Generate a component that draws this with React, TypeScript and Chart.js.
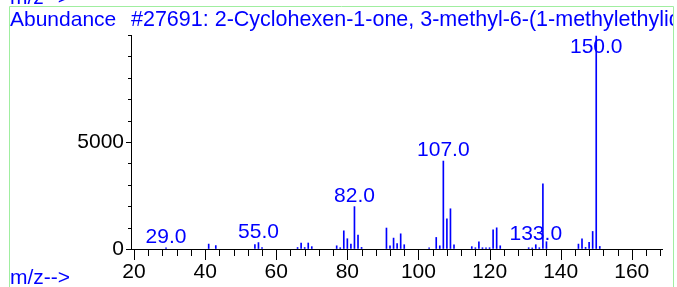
import React, { useEffect, useRef } from 'react';
import { Chart, registerables } from 'chart.js';

Chart.register(...registerables);

// m/z values of the peaks
const masses = [
  29, 41, 43, 54, 55, 56, 66, 67, 68, 69, 70, 77, 78, 79, 80, 81, 82, 83, 84,
  91, 92, 93, 94, 95, 96, 103, 105, 106, 107, 108, 109, 110, 115, 116, 117, 118,
  119, 120, 121, 122, 123, 131, 132, 133, 134, 135, 136, 145, 146, 147, 148,
  149, 150, 151,
];
// abundance of each peak
const abundances = [
  50, 230, 160, 210, 300, 70, 70, 280, 70, 280, 110, 150, 60, 850, 480, 230, 1980, 650, 75,
  980, 150, 510, 250, 710, 200, 60, 540, 150, 4110, 1410, 1880, 200, 110, 60, 330, 60,
  60, 60, 900, 990, 150, 60, 50, 200, 60, 3040, 340, 230, 470, 75, 310,
  820, 9950, 120,
];
// peaks that carry a label
const labeledMasses = [29, 55, 82, 107, 133, 150];
// tick labels shown on the axes
const xTickLabels = ['20', '40', '60', '80', '100', '120', '140', '160'];
const yTickLabels = ['0', '5000'];

const yAxisTitle = 'Abundance';
const compoundTitle = '#27691: 2-Cyclohexen-1-one, 3-methyl-6-(1-methylethylidene)-';
const xAxisTitle = 'm/z-->';

const FONT_FAMILY = '"Liberation Sans", Arial, sans-serif';
const BLUE = '#0000ff';

export default function App() {
  const canvasRef = useRef<HTMLCanvasElement | null>(null);

  useEffect(() => {
    const canvas = canvasRef.current;
    if (!canvas) return;

    const decorPlugin = {
      id: 'decor',
      beforeDraw(chart: any) {
        const ctx = chart.ctx;
        ctx.save();
        ctx.fillStyle = '#ffffff';
        ctx.fillRect(0, 0, chart.width, chart.height);
        // green frame
        ctx.strokeStyle = 'rgb(160,238,160)';
        ctx.lineWidth = 1;
        ctx.beginPath();
        ctx.moveTo(9.5, 287);
        ctx.lineTo(9.5, 6.5);
        ctx.lineTo(673.5, 6.5);
        ctx.lineTo(673.5, 287);
        ctx.stroke();
        ctx.restore();
      },
      afterDraw(chart: any) {
        const ctx = chart.ctx;
        const xs = chart.scales.x;
        const ys = chart.scales.y;
        const area = chart.chartArea;
        ctx.save();
        // ticks
        ctx.strokeStyle = '#000000';
        ctx.lineWidth = 1;
        ctx.beginPath();
        xs.ticks.forEach((t: any) => {
          const px = Math.round(xs.getPixelForValue(t.value)) + 0.5;
          const len = xTickLabels.includes(String(t.value)) ? 11 : 7;
          ctx.moveTo(px, area.bottom);
          ctx.lineTo(px, area.bottom + len);
        });
        ys.ticks.forEach((t: any) => {
          const py = Math.round(ys.getPixelForValue(t.value)) + 0.5;
          const len = yTickLabels.includes(String(t.value)) ? 5 : 3;
          ctx.moveTo(area.left, py);
          ctx.lineTo(area.left - len, py);
        });
        ctx.stroke();

        // texts
        ctx.fillStyle = BLUE;
        ctx.font = `21px ${FONT_FAMILY}`;
        ctx.textBaseline = 'alphabetic';
        ctx.textAlign = 'left';
        ctx.fillText(xAxisTitle, 10, 4);
        ctx.fillText(xAxisTitle, 10, 284);
        ctx.fillText(yAxisTitle, 10, 26);
        ctx.save();
        ctx.beginPath();
        ctx.rect(0, 0, 673, 287);
        ctx.clip();
        ctx.font = `21.5px ${FONT_FAMILY}`;
        ctx.fillText(compoundTitle, 131, 26);
        ctx.restore();

        // peak labels
        ctx.font = `21px ${FONT_FAMILY}`;
        ctx.textAlign = 'center';
        labeledMasses.forEach((m) => {
          const i = masses.indexOf(m);
          if (i < 0) return;
          const px = xs.getPixelForValue(m);
          const top = ys.getPixelForValue(abundances[i]);
          const base = Math.max(top - 5, area.top + 18);
          ctx.fillText(m.toFixed(1), px, base);
        });
        ctx.restore();
      },
    };

    const chart = new Chart(canvas, {
      type: 'bar',
      data: {
        datasets: [
          {
            data: masses.map((m, i) => ({ x: m, y: abundances[i] })),
            backgroundColor: BLUE,
            borderWidth: 0,
            barThickness: 1,
          },
        ],
      },
      options: {
        animation: false,
        responsive: false,
        devicePixelRatio: 1,
        layout: { padding: { left: 0, right: 15, top: 35, bottom: 0 } },
        plugins: {
          legend: { display: false },
          tooltip: { enabled: false },
          title: { display: false },
        },
        scales: {
          x: {
            type: 'linear',
            min: 19.15,
            max: 168.5,
            offset: false,
            grid: { display: true, drawOnChartArea: false, drawTicks: false },
            border: { display: true, color: '#000000', width: 1 },
            ticks: {
              stepSize: 4,
              includeBounds: false,
              autoSkip: false,
              maxRotation: 0,
              padding: 11,
              color: '#000000',
              font: { family: FONT_FAMILY, size: 21 },
              callback: (v: any) => (xTickLabels.includes(String(v)) ? String(v) : ''),
            },
            afterFit: (s: any) => {
              s.height = 38;
            },
          },
          y: {
            type: 'linear',
            min: 0,
            max: 10000,
            grid: { display: true, drawOnChartArea: false, drawTicks: false },
            border: { display: true, color: '#000000', width: 1 },
            ticks: {
              stepSize: 1000,
              includeBounds: false,
              autoSkip: false,
              padding: 7,
              color: '#000000',
              font: { family: FONT_FAMILY, size: 21 },
              callback: (v: any) => (yTickLabels.includes(String(v)) ? String(v) : ''),
            },
            afterFit: (s: any) => {
              s.width = 131;
            },
          },
        },
      },
      plugins: [decorPlugin],
    } as any);

    return () => {
      chart.destroy();
    };
  }, []);

  return (
    <div style={{ position: 'absolute', left: 0, top: 0, width: 677, height: 287 }}>
      <canvas ref={canvasRef} width={677} height={287} style={{ display: 'block' }} />
    </div>
  );
}
